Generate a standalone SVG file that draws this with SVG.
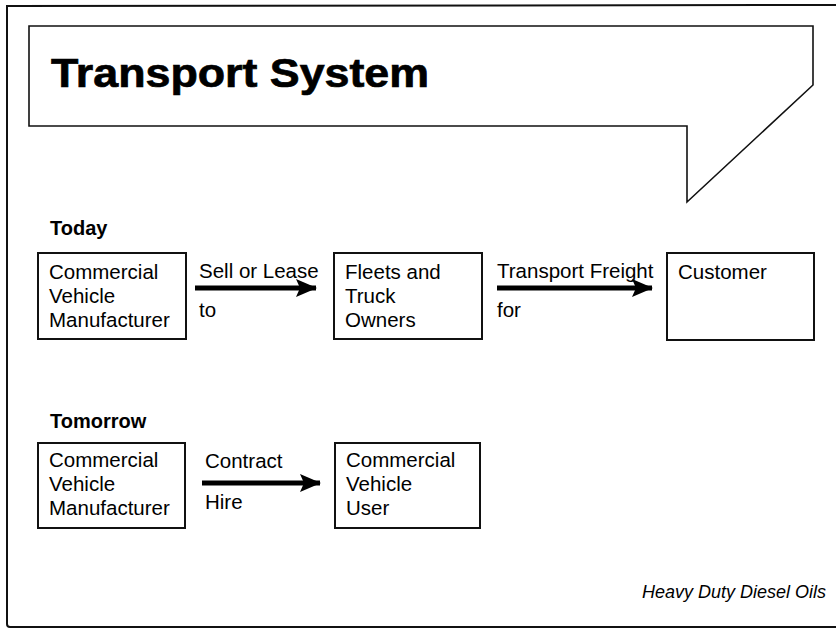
<svg xmlns="http://www.w3.org/2000/svg" width="836" height="630" viewBox="0 0 836 630">
  <style>
    .frame { fill: none; stroke: #111; stroke-width: 2; }
    .callout { fill: #fff; stroke: #111; stroke-width: 1.6; stroke-linejoin: miter; }
    .box { fill: #fff; stroke: #111; stroke-width: 2; }
    .title { font-family: "Liberation Sans", Arial, sans-serif; font-weight: bold; font-size: 40px; fill: #000; stroke: #000; stroke-width: 0.7; }
    .head { font-family: "Liberation Sans", Arial, sans-serif; font-weight: bold; font-size: 20px; fill: #000; }
    .lbl { font-family: "Liberation Sans", Arial, sans-serif; font-size: 20.5px; fill: #000; }
    .foot { font-family: "Liberation Sans", Arial, sans-serif; font-style: italic; font-size: 18px; fill: #000; }
    .shaft { stroke: #000; stroke-width: 5; fill: none; }
  </style>
  <defs>
    <marker id="arrowhead" markerUnits="userSpaceOnUse" markerWidth="24" markerHeight="20" refX="20" refY="9" orient="auto">
      <path d="M0,0 L21,9 L0,18 L4,9 Z" fill="#000"/>
    </marker>
  </defs>

  <!-- page frame -->
  <path class="frame" d="M836,5 L7,6 L7,624 Q7,627 10,627 L836,627"/>

  <!-- title callout -->
  <g id="title">
    <path class="callout" d="M29,26 L813,26 L813,85 L687,202 L687,126 L29,126 Z"/>
    <text class="title" x="51" y="87" textLength="378" lengthAdjust="spacingAndGlyphs">Transport System</text>
  </g>

  <!-- section headings -->
  <text class="head" x="50" y="235">Today</text>
  <text class="head" x="50" y="428">Tomorrow</text>

  <!-- today -->
  <g id="manufacturer-today">
    <rect class="box" x="38" y="253" width="148" height="86"/>
    <text class="lbl" x="49" y="279">Commercial</text>
    <text class="lbl" x="49" y="303">Vehicle</text>
    <text class="lbl" x="49" y="327">Manufacturer</text>
  </g>
  <g id="fleets">
    <rect class="box" x="334" y="253" width="148" height="86"/>
    <text class="lbl" x="345" y="279">Fleets and</text>
    <text class="lbl" x="345" y="303">Truck</text>
    <text class="lbl" x="345" y="327">Owners</text>
  </g>
  <g id="customer">
    <rect class="box" x="667" y="253" width="147" height="87"/>
    <text class="lbl" x="678" y="279">Customer</text>
  </g>

  <!-- tomorrow -->
  <g id="manufacturer-tomorrow">
    <rect class="box" x="38" y="443" width="147" height="85"/>
    <text class="lbl" x="49" y="467">Commercial</text>
    <text class="lbl" x="49" y="491">Vehicle</text>
    <text class="lbl" x="49" y="515">Manufacturer</text>
  </g>
  <g id="user">
    <rect class="box" x="335" y="443" width="145" height="85"/>
    <text class="lbl" x="346" y="467">Commercial</text>
    <text class="lbl" x="346" y="491">Vehicle</text>
    <text class="lbl" x="346" y="515">User</text>
  </g>

  <!-- connectors -->
  <g id="connectors">
    <line class="shaft" x1="195" y1="288" x2="316" y2="288" marker-end="url(#arrowhead)"/>
    <text class="lbl" x="199" y="278">Sell or Lease</text>
    <text class="lbl" x="199" y="317">to</text>

    <line class="shaft" x1="497" y1="288" x2="652" y2="288" marker-end="url(#arrowhead)"/>
    <text class="lbl" x="497" y="278">Transport Freight</text>
    <text class="lbl" x="497" y="317">for</text>

    <line class="shaft" x1="202" y1="483" x2="320" y2="483" marker-end="url(#arrowhead)"/>
    <text class="lbl" x="205" y="468">Contract</text>
    <text class="lbl" x="205" y="509">Hire</text>
  </g>

  <text class="foot" x="826" y="598" text-anchor="end">Heavy Duty Diesel Oils</text>
</svg>
